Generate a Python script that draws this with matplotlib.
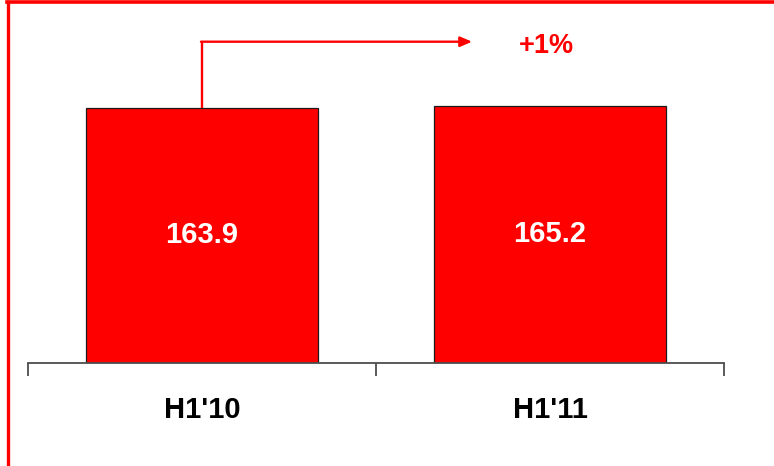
import matplotlib.pyplot as plt
from matplotlib.lines import Line2D

# ── Data ──────────────────────────────────────────────────────────────────────
periods = ["H1'10", "H1'11"]
values  = [163.9, 165.2]
growth  = "+1%"

RED = "#FF0000"
plt.rcParams["font.family"] = ["Liberation Sans", "DejaVu Sans"]

fig = plt.figure(figsize=(7.74, 4.66), dpi=100)
ax = fig.add_axes([28 / 774, 1 - 363 / 466, 696 / 774, 363 / 466])

x = list(range(len(periods)))
ax.bar(x, values, width=0.667, color=RED, edgecolor="#1a1a1a", linewidth=0.9, zorder=2)

for xi, v in zip(x, values):
    ax.text(xi, v / 2, f"{v:.1f}", ha="center", va="center",
            color="white", fontsize=21, fontweight="bold", zorder=3)

# category labels under the axis
for xi, p in zip(x, periods):
    ax.text(xi, -0.1295, p, transform=ax.get_xaxis_transform(),
            ha="center", va="center", color="black", fontsize=21, fontweight="bold")

# growth arrow: up from the first bar, then across towards the second
arrow_y = max(values) * 1.25
ax.plot([x[0], x[0]], [values[0], arrow_y], color=RED, lw=1.7, zorder=3,
        solid_capstyle="butt")
ax.annotate("", xy=(0.776, arrow_y), xytext=(x[0] - 0.003, arrow_y),
            arrowprops=dict(arrowstyle="-|>,head_length=0.7,head_width=0.3",
                            color=RED, lw=1.7, shrinkA=0, shrinkB=0))
ax.text(0.99, arrow_y - 2.6, growth, ha="center", va="center",
        color=RED, fontsize=19.5, fontweight="bold")

ax.set_xlim(-0.5, 1.5)
ax.set_ylim(0, 233.3)
for side in ["left", "right", "top"]:
    ax.spines[side].set_visible(False)
ax.spines["bottom"].set_color("#4d4d4d")
ax.spines["bottom"].set_linewidth(1.3)
ax.set_xticks([-0.5, 0.5, 1.5])
ax.set_xticklabels([])
ax.tick_params(axis="x", length=9, width=1.3, color="#4d4d4d", direction="out")
ax.set_yticks([])

# red frame along the left and top edges
fig.add_artist(Line2D([7.5 / 774, 7.5 / 774], [0, 1 - 1.5 / 466],
                      transform=fig.transFigure, color=RED, lw=2.4))
fig.add_artist(Line2D([6.5 / 774, 1], [1 - 1.5 / 466, 1 - 1.5 / 466],
                      transform=fig.transFigure, color=RED, lw=2.6))

fig.savefig("out.png", dpi=100)
